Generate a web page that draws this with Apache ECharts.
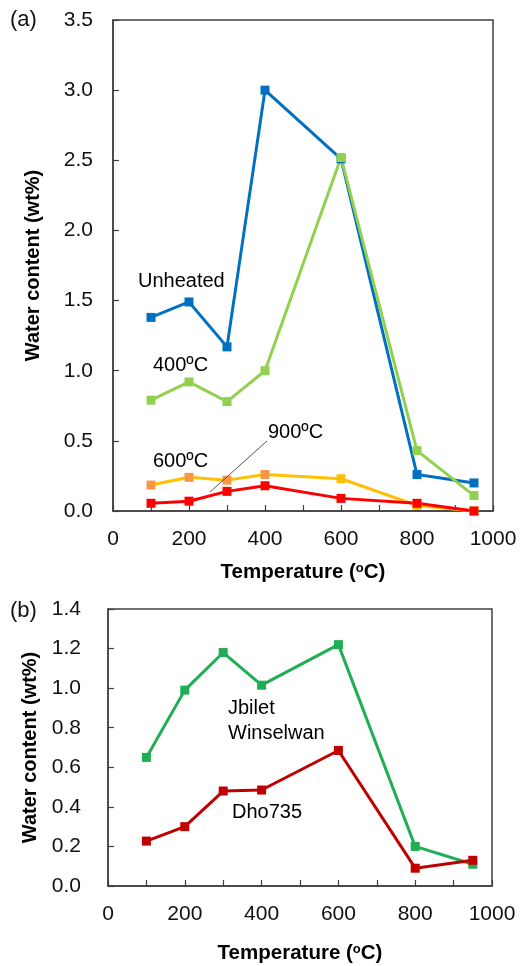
<!DOCTYPE html>
<html>
<head>
<meta charset="utf-8">
<script src="https://cdn.jsdelivr.net/npm/echarts@6/dist/echarts.min.js"></script>
<style>html,body{margin:0;padding:0;background:#fff}#c{width:523px;height:966px}</style>
</head>
<body>
<div id="c"></div>
<script>
var temps = [100, 200, 300, 400, 600, 800, 950];
// Panel (a)
var unheated = [1.38, 1.49, 1.17, 3.00, 2.51, 0.26, 0.20];
var heated400 = [0.79, 0.92, 0.78, 1.00, 2.52, 0.43, 0.11];
var heated600 = [0.185, 0.24, 0.22, 0.26, 0.23, 0.04, 0.00];
var heated900 = [0.055, 0.07, 0.14, 0.18, 0.09, 0.055, 0.00];
// Panel (b)
var jbilet = [0.65, 0.99, 1.18, 1.015, 1.22, 0.20, 0.11];
var dho735 = [0.227, 0.30, 0.48, 0.485, 0.685, 0.09, 0.13];
var xTicks = [0, 200, 400, 600, 800, 1000];
var yTicksA = [0, 0.5, 1.0, 1.5, 2.0, 2.5, 3.0, 3.5];
var yTicksB = [0, 0.2, 0.4, 0.6, 0.8, 1.0, 1.2, 1.4];

function pairs(ys) { return temps.map(function (t, i) { return [t, ys[i]]; }); }

var FONT = 'Liberation Sans, Arial, sans-serif';
var axisColor = '#404040';

function xAxisDef(gridIndex, nameGap) {
  return {
    type: 'value', gridIndex: gridIndex, min: 0, max: 1000, interval: 100,
    name: 'Temperature ({s|o}C)', nameLocation: 'middle', nameGap: nameGap,
    nameTextStyle: { fontFamily: FONT, fontSize: 20.5, fontWeight: 'bold', color: '#000',
      rich: { s: { fontFamily: FONT, fontSize: 13, fontWeight: 'bold', verticalAlign: 'top', padding: [0, 0, 8, 0] } } },
    axisLine: { show: true, lineStyle: { color: axisColor, width: 1.5 } },
    axisTick: { show: true, inside: true, length: 6, lineStyle: { color: axisColor, width: 1.2 } },
    axisLabel: { fontFamily: FONT, fontSize: 21, color: '#111', margin: 18,
      formatter: function (v) { return xTicks.indexOf(v) >= 0 ? String(v) : ''; } },
    splitLine: { show: false }
  };
}
function yAxisDef(gridIndex, max, interval, ticks, margin, nameGap) {
  return {
    type: 'value', gridIndex: gridIndex, min: 0, max: max, interval: interval,
    name: 'Water content (wt%)', nameLocation: 'middle', nameGap: nameGap,
    nameTextStyle: { fontFamily: FONT, fontSize: 20, fontWeight: 'bold', color: '#000' },
    axisLine: { show: true, lineStyle: { color: axisColor, width: 1.5 } },
    axisTick: { show: true, inside: true, length: 6, lineStyle: { color: axisColor, width: 1.2 } },
    axisLabel: { fontFamily: FONT, fontSize: 21, color: '#111', margin: margin,
      formatter: function (v) { return v.toFixed(1); } },
    splitLine: { show: false }
  };
}
function lineSeries(name, data, color, xi, markerColor) {
  return {
    name: name, type: 'line', xAxisIndex: xi, yAxisIndex: xi,
    data: pairs(data), symbol: 'rect', symbolSize: 9,
    lineStyle: { color: color, width: 3 },
    itemStyle: { color: markerColor || color },
    z: 3
  };
}

var chart = echarts.init(document.getElementById('c'), null, { renderer: 'canvas' });
var s600 = lineSeries('600ºC', heated600, '#FFC000', 0);
s600.itemStyle = { color: function (p) { return p.dataIndex < 4 ? '#F79646' : '#FFC000'; } };
var s900 = lineSeries('900ºC', heated900, '#FF0000', 0);

chart.setOption({
  animation: false,
  backgroundColor: '#fff',
  grid: [
    { left: 113, right: 30, top: 20, height: 491, show: true, borderColor: axisColor, borderWidth: 1.5, backgroundColor: 'transparent' },
    { left: 108, right: 31, top: 609, height: 277, show: true, borderColor: axisColor, borderWidth: 1.5, backgroundColor: 'transparent' }
  ],
  xAxis: [xAxisDef(0, 51), xAxisDef(1, 57)],
  yAxis: [yAxisDef(0, 3.5, 0.5, yTicksA, 20, 70), yAxisDef(1, 1.4, 0.2, yTicksB, 27, 64)],
  series: [
    lineSeries('Unheated', unheated, '#0070C0', 0),
    lineSeries('400ºC', heated400, '#92D050', 0),
    s600,
    s900,
    lineSeries('Jbilet Winselwan', jbilet, '#1FAE54', 1),
    lineSeries('Dho735', dho735, '#C00000', 1)
  ],
  graphic: [
    { type: 'text', left: 10, top: 9, style: { text: '(a)', font: '22px ' + FONT, fill: '#111' } },
    { type: 'text', left: 10, top: 600, style: { text: '(b)', font: '22px ' + FONT, fill: '#111' } },
    { type: 'text', left: 138, top: 271, style: { text: 'Unheated', font: '20px ' + FONT, fill: '#000' } },
    { type: 'text', left: 153, top: 355, style: { text: '400ºC', font: '20px ' + FONT, fill: '#000' } },
    { type: 'text', left: 268, top: 422, style: { text: '900ºC', font: '20px ' + FONT, fill: '#000' } },
    { type: 'text', left: 153, top: 451, style: { text: '600ºC', font: '20px ' + FONT, fill: '#000' } },
    { type: 'line', shape: { x1: 267, y1: 441, x2: 210, y2: 492 }, style: { stroke: '#555', lineWidth: 1 }, z: 10 },
    { type: 'text', left: 228, top: 698, style: { text: 'Jbilet', font: '20px ' + FONT, fill: '#000' } },
    { type: 'text', left: 228, top: 723, style: { text: 'Winselwan', font: '20px ' + FONT, fill: '#000' } },
    { type: 'text', left: 232, top: 802, style: { text: 'Dho735', font: '20px ' + FONT, fill: '#000' } }
  ]
});
</script>
</body>
</html>
